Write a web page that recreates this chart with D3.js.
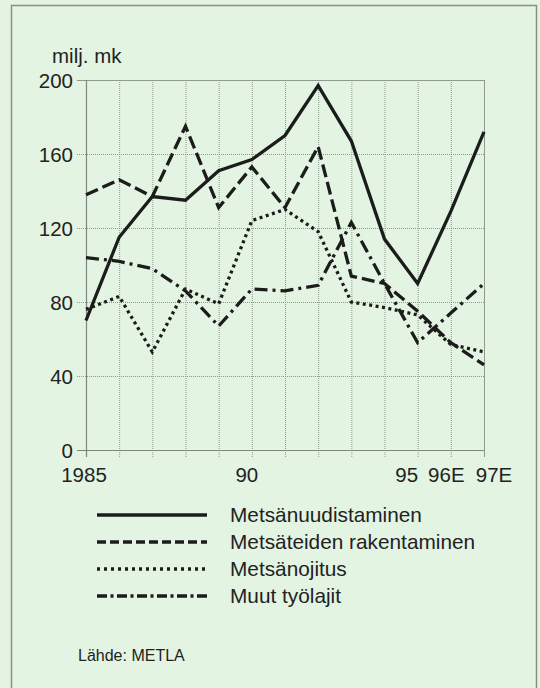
<!DOCTYPE html>
<html>
<head>
<meta charset="utf-8">
<script src="https://cdn.jsdelivr.net/npm/d3@7"></script>
<style>
  html, body { margin: 0; padding: 0; background: #e4f4e2; }
  svg { display: block; font-family: "Liberation Sans", Arial, sans-serif; }
</style>
</head>
<body>
<div id="graf"></div>
<script>
// vuodet ja sarjat (milj. mk)
var vuodet = [1985, 1986, 1987, 1988, 1989, 1990, 1991, 1992, 1993, 1994, 1995, 1996, 1997];
var uudistaminen = [70, 115, 137, 135, 151, 157, 170, 197, 167, 114, 90, 129, 172];
var teiden = [138, 146, 137, 175, 131, 153, 131, 164, 94, 90, 75, 58, 46];
var ojitus = [76, 83, 53, 87, 79, 124, 130, 118, 80, 77, 73, 57, 53];
var muut = [104, 102, 98, 86, 67, 87, 86, 89, 123, 90, 58, 74, 90];

var sarjaNimet = ["Metsänuudistaminen", "Metsäteiden rakentaminen", "Metsänojitus", "Muut työlajit"];
var yTicks = [0, 40, 80, 120, 160, 200];
var xTickVuodet = [1985, 1990, 1995, 1996, 1997];
var xTickTekstit = ["1985", "90", "95", "96E", "97E"];

var Main = (function() {

    var W = 540, H = 688,
        viiva = "#1c1c1c",
        ruudukko = "#8d9a8d",
        // viivatyylit: kaavio / selite
        tyylit = [
            { dash: null, legend: null },
            { dash: "13,5", legend: "9,4" },
            { dash: "3,3.5", legend: "3,4" },
            { dash: "13,5,3,5", legend: "10,3.5,3,3.5" }
        ];

    function piirra() {
        var svg = d3.select("#graf").append("svg")
            .attr("width", W).attr("height", H);

        // tausta ja kehys
        svg.append("rect").attr("x", 0).attr("y", 0).attr("width", W).attr("height", H)
            .attr("fill", "#e4f4e2");
        svg.append("rect").attr("x", 11.5).attr("y", 5.5).attr("width", 525).attr("height", H + 10)
            .attr("fill", "none").attr("stroke", "#8a8f8a").attr("stroke-width", 1.5);

        var x = d3.scaleLinear().domain([1985, 1997]).range([86, 484]);
        var y = d3.scaleLinear().domain([0, 200]).range([450, 80]);

        var g = svg.append("g");

        // pystyviivat + tikit alas
        g.selectAll("line.vx").data(vuodet).enter().append("line")
            .attr("x1", function(d){ return x(d) + 0.5; })
            .attr("x2", function(d){ return x(d) + 0.5; })
            .attr("y1", y(200)).attr("y2", y(0) + 7)
            .attr("stroke", ruudukko).attr("stroke-width", 1)
            .attr("stroke-dasharray", function(d, i){ return (i === 0 || i === vuodet.length - 1) ? null : "1,1"; });

        // vaakaviivat + tikit vasemmalle
        g.selectAll("line.hy").data(yTicks).enter().append("line")
            .attr("x1", x(1985) - 9).attr("x2", x(1997))
            .attr("y1", function(d){ return y(d) + 0.5; })
            .attr("y2", function(d){ return y(d) + 0.5; })
            .attr("stroke", ruudukko).attr("stroke-width", 1)
            .attr("stroke-dasharray", function(d){ return (d === 0 || d === 200) ? null : "1,1"; });

        // akselit
        g.append("line").attr("x1", x(1985) - 9).attr("x2", x(1997))
            .attr("y1", y(0) + 0.5).attr("y2", y(0) + 0.5)
            .attr("stroke", "#7d877d").attr("stroke-width", 1.2);
        g.append("line").attr("x1", x(1985) + 0.5).attr("x2", x(1985) + 0.5)
            .attr("y1", y(200)).attr("y2", y(0) + 7)
            .attr("stroke", "#7d877d").attr("stroke-width", 1.2);

        // y-tekstit
        g.selectAll("text.yt").data(yTicks).enter().append("text")
            .attr("x", 73).attr("y", function(d){ return y(d) + 8; })
            .attr("text-anchor", "end")
            .style("font-size", "20.5px").style("fill", "#222")
            .text(function(d){ return d; });

        // x-tekstit (siirrot jotta eivät mene päällekkäin)
        var siirto = [-2, -5, -11, -4.5, 10];
        g.selectAll("text.xt").data(xTickVuodet).enter().append("text")
            .attr("x", function(d, i){ return x(d) + siirto[i]; })
            .attr("y", 482)
            .attr("text-anchor", "middle")
            .style("font-size", "20.5px").style("fill", "#222")
            .text(function(d, i){ return xTickTekstit[i]; });

        svg.append("text").text("milj. mk")
            .attr("x", 52).attr("y", 63)
            .style("font-size", "20.5px").style("fill", "#222");

        // sarjat
        var sarjat = [uudistaminen, teiden, ojitus, muut];
        var line = d3.line()
            .x(function(d, i){ return x(vuodet[i]); })
            .y(function(d){ return y(d); });

        sarjat.forEach(function(s, i){
            g.append("path").datum(s)
                .attr("d", line)
                .attr("fill", "none")
                .attr("stroke", viiva)
                .attr("stroke-width", 3.3)
                .attr("stroke-linejoin", "miter")
                .attr("stroke-dasharray", tyylit[i].dash);
        });

        // selite
        var sel = svg.append("g");
        sarjaNimet.forEach(function(nimi, i){
            var yy = 515 + i * 27;
            sel.append("line")
                .attr("x1", 97).attr("x2", 207)
                .attr("y1", yy).attr("y2", yy)
                .attr("stroke", viiva).attr("stroke-width", 3.4)
                .attr("stroke-dasharray", tyylit[i].legend);
            sel.append("text").text(nimi)
                .attr("x", 230).attr("y", yy + 6.5)
                .style("font-size", "20.8px").style("fill", "#222");
        });

        svg.append("text").text("Lähde: METLA")
            .attr("x", 78).attr("y", 661)
            .style("font-size", "16px").style("fill", "#222");
    }

    return { piirra: piirra };
})();

Main.piirra();
</script>
</body>
</html>
